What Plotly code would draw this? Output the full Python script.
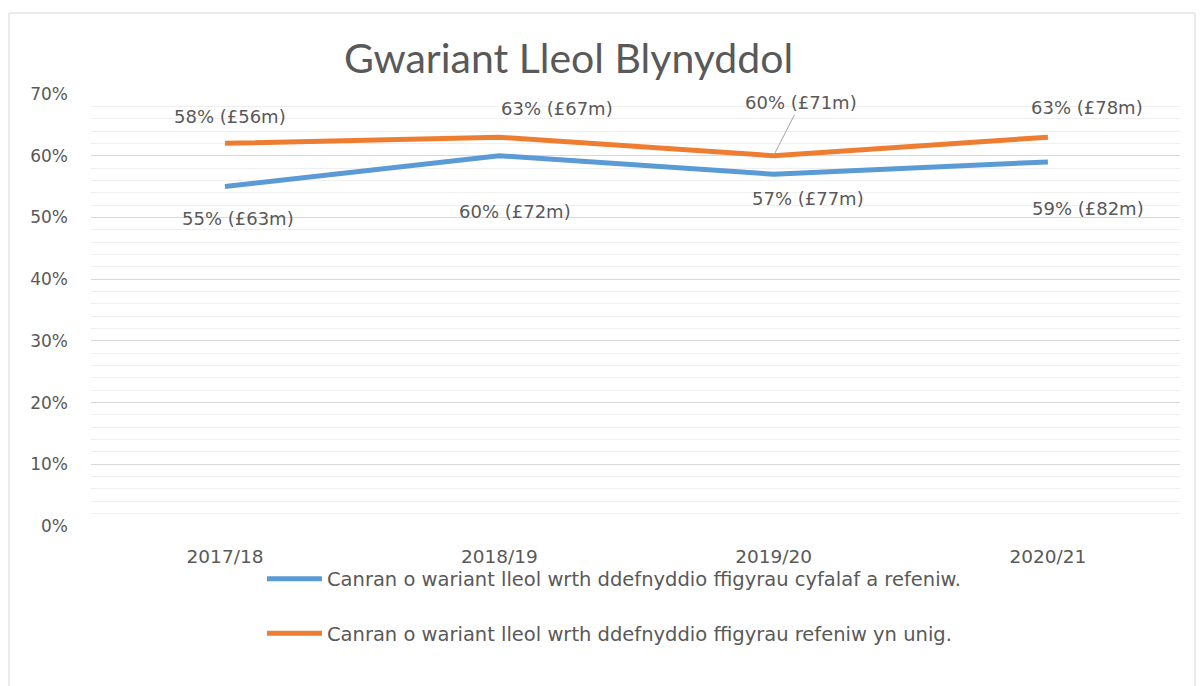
import plotly.graph_objects as go

categories = ["2017/18", "2018/19", "2019/20", "2020/21"]
blue_name = "Canran o wariant lleol wrth ddefnyddio ffigyrau cyfalaf a refeniw."
orange_name = "Canran o wariant lleol wrth ddefnyddio ffigyrau refeniw yn unig."
blue_values = [0.55, 0.60, 0.57, 0.59]
orange_values = [0.62, 0.63, 0.60, 0.63]
blue_labels = ["55% (£63m)", "60% (£72m)", "57% (£77m)", "59% (£82m)"]
orange_labels = ["58% (£56m)", "63% (£67m)", "60% (£71m)", "63% (£78m)"]

BLUE = "#5B9BD5"
ORANGE = "#ED7D31"
TXT = "#595959"
FONT = "DejaVu Sans, sans-serif"
TFONT = "Lato, sans-serif"
LBL = 18

fig = go.Figure()
fig.add_trace(go.Scatter(x=categories, y=blue_values, mode="lines", name=blue_name,
                         line=dict(color=BLUE, width=5), legendgroup="a", hoverinfo="skip"))
fig.add_trace(go.Scatter(x=categories, y=orange_values, mode="lines", name=orange_name,
                         line=dict(color=ORANGE, width=5), legendgroup="b", hoverinfo="skip"))

# label offsets in pixels (dx, dy up)
orange_off = [(5, 27), (58, 29), None, (39, 30)]
blue_off = [(13, -32), (16, -56), (34, -24), (40, -47)]
for i, c in enumerate(categories):
    o = orange_off[i]
    if o is None:
        fig.add_annotation(x=c, y=orange_values[i], text=orange_labels[i], showarrow=True,
                           arrowhead=0, arrowwidth=1, arrowcolor="#A6A6A6", ax=27, ay=-53,
                           standoff=2, font=dict(size=LBL, color=TXT, family=FONT))
    else:
        fig.add_annotation(x=c, y=orange_values[i], text=orange_labels[i], showarrow=False,
                           xshift=o[0], yshift=o[1], font=dict(size=LBL, color=TXT, family=FONT))
    b = blue_off[i]
    fig.add_annotation(x=c, y=blue_values[i], text=blue_labels[i], showarrow=False,
                       xshift=b[0], yshift=b[1], font=dict(size=LBL, color=TXT, family=FONT))

fig.add_shape(type="rect", xref="paper", yref="paper", x0=-0.0753, x1=1.0138, y0=-0.4, y1=1.1875,
              line=dict(color="#D9D9D9", width=1), layer="below")

fig.update_layout(
    width=1202, height=686,
    margin=dict(l=91, r=22, t=94, b=160),
    paper_bgcolor="white", plot_bgcolor="white",
    font=dict(family=FONT, color=TXT, size=17),
    title=dict(text="Gwariant Lleol Blynyddol", x=0.473, xanchor="center", y=0.915, yanchor="middle",
               font=dict(size=41, color=TXT, family=TFONT)),
    showlegend=True,
    legend=dict(orientation="v", x=0.157, xanchor="left", y=-0.078, yanchor="top",
                traceorder="grouped", tracegroupgap=26, itemwidth=55,
                font=dict(size=19.5, color=TXT, family=FONT), bgcolor="rgba(0,0,0,0)"),
    xaxis=dict(type="category", range=[-0.4885, 3.4815], showgrid=False, showline=False, ticks="",
               ticklabelstandoff=17, tickfont=dict(size=18.5, color=TXT, family=FONT), zeroline=False),
    yaxis=dict(range=[0, 0.7], dtick=0.1, tickformat=".0%", showline=False, ticks="",
               gridcolor="#D9D9D9", gridwidth=1, zeroline=False, ticklabelstandoff=22,
               tickfont=dict(size=17, color=TXT, family=FONT),
               minor=dict(dtick=0.02, showgrid=True, gridcolor="#EFEFEF", gridwidth=1)),
)

fig.write_html("out.html", config={"displayModeBar": False},
               post_script="document.body.style.margin='0';")
